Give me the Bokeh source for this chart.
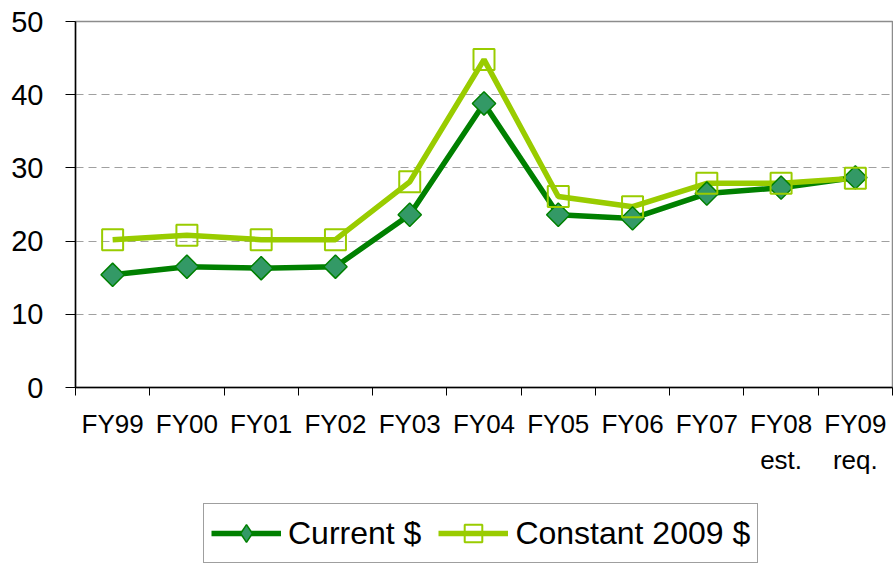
import math
from bokeh.plotting import figure
from bokeh.layouts import column
from bokeh.models import ColumnDataSource, FixedTicker, Legend, LegendItem, Range1d
from bokeh.embed import file_html
from bokeh.resources import INLINE

categories = ["FY99", "FY00", "FY01", "FY02", "FY03", "FY04", "FY05", "FY06", "FY07", "FY08\nest.", "FY09\nreq."]
current = [15.4, 16.5, 16.3, 16.5, 23.6, 38.8, 23.6, 23.1, 26.5, 27.3, 28.7]
constant = [20.2, 20.8, 20.2, 20.2, 28.1, 44.8, 26.1, 24.7, 27.9, 27.9, 28.6]
y_ticks = [0, 10, 20, 30, 40, 50]
series_names = ["Current $", "Constant 2009 $"]

CUR_LINE, CUR_FILL, CON_LINE = "#008000", "#339966", "#99cc00"

xs = list(range(len(categories)))
src = ColumnDataSource(dict(x=xs, cur=current, con=constant))

p = figure(width=893, height=495, output_backend="svg", toolbar_location=None,
           x_range=Range1d(-0.5, len(categories) - 0.5), y_range=Range1d(0, 50),
           min_border_left=75, min_border_top=21, min_border_right=1, min_border_bottom=108)

p.outline_line_color = "#8c8c8c"
p.outline_line_width = 1.5

p.xaxis.ticker = FixedTicker(ticks=xs, minor_ticks=[i - 0.5 for i in range(len(categories) + 1)])
p.xaxis.major_label_overrides = {i: c for i, c in enumerate(categories)}
p.xaxis.major_tick_out = 0
p.xaxis.major_tick_in = 0
p.xaxis.minor_tick_out = 8
p.xaxis.minor_tick_in = 0
p.xaxis.minor_tick_line_color = "black"
p.xaxis.axis_line_color = "black"
p.xaxis.axis_line_width = 1.5
p.xaxis.major_label_text_font = "Liberation Sans"
p.xaxis.major_label_text_font_size = "26px"
p.xaxis.major_label_text_color = "black"
p.xaxis.major_label_standoff = 13

p.yaxis.ticker = FixedTicker(ticks=y_ticks)
p.yaxis.minor_tick_line_color = None
p.yaxis.major_tick_out = 10
p.yaxis.major_tick_in = 0
p.yaxis.major_tick_line_color = "black"
p.yaxis.axis_line_color = "black"
p.yaxis.axis_line_width = 1.5
p.yaxis.major_label_text_font = "Liberation Sans"
p.yaxis.major_label_text_font_size = "29px"
p.yaxis.major_label_text_color = "black"
p.yaxis.major_label_standoff = 22

p.xgrid.grid_line_color = None
p.ygrid.ticker = FixedTicker(ticks=[10, 20, 30, 40])
p.ygrid.grid_line_color = "#a0a0a0"
p.ygrid.grid_line_dash = "8 5"
p.ygrid.grid_line_width = 1.2

p.line("x", "cur", source=src, line_color=CUR_LINE, line_width=5.5)
p.line("x", "con", source=src, line_color=CON_LINE, line_width=5.5)
p.scatter("x", "cur", source=src, marker="square", angle=math.pi / 4, size=16.5,
          fill_color=CUR_FILL, line_color=CUR_LINE, line_width=1.5)
p.scatter("x", "con", source=src, marker="square", size=21, fill_color=None,
          line_color=CON_LINE, line_width=2)

# legend strip (its own small figure below the chart); its renderers are hidden
q = figure(width=893, height=68, output_backend="svg", toolbar_location=None,
           x_range=Range1d(-0.5, len(categories) - 0.5), y_range=Range1d(0, 50),
           min_border=0, min_border_left=75, min_border_right=1, min_border_top=0, min_border_bottom=0)
q.axis.visible = False
q.grid.visible = False
q.outline_line_color = None
ql1 = q.line("x", "cur", source=src, line_color=CUR_LINE, line_width=5.5, visible=False)
qm1 = q.scatter("x", "cur", source=src, marker="diamond", size=24,
                fill_color=CUR_FILL, line_color=CUR_LINE, line_width=1.5, visible=False)
ql2 = q.line("x", "con", source=src, line_color=CON_LINE, line_width=5.5, visible=False)
qm2 = q.scatter("x", "con", source=src, marker="square", size=21, fill_color=None,
                line_color=CON_LINE, line_width=2, visible=False)

legend = Legend(items=[LegendItem(label=series_names[0], renderers=[ql1, qm1]),
                       LegendItem(label=series_names[1], renderers=[ql2, qm2])],
                orientation="horizontal", location=(128, 0),
                label_text_font="Liberation Sans", label_text_font_size="32px",
                label_text_color="black", glyph_width=70, glyph_height=44,
                spacing=17, padding=7, margin=0, label_standoff=7,
                border_line_color="#404040", border_line_width=1,
                background_fill_color="white", background_fill_alpha=1,
                inactive_fill_alpha=0)
q.add_layout(legend, "center")

open("out.html", "w").write(file_html(column(p, q, spacing=0), INLINE))
